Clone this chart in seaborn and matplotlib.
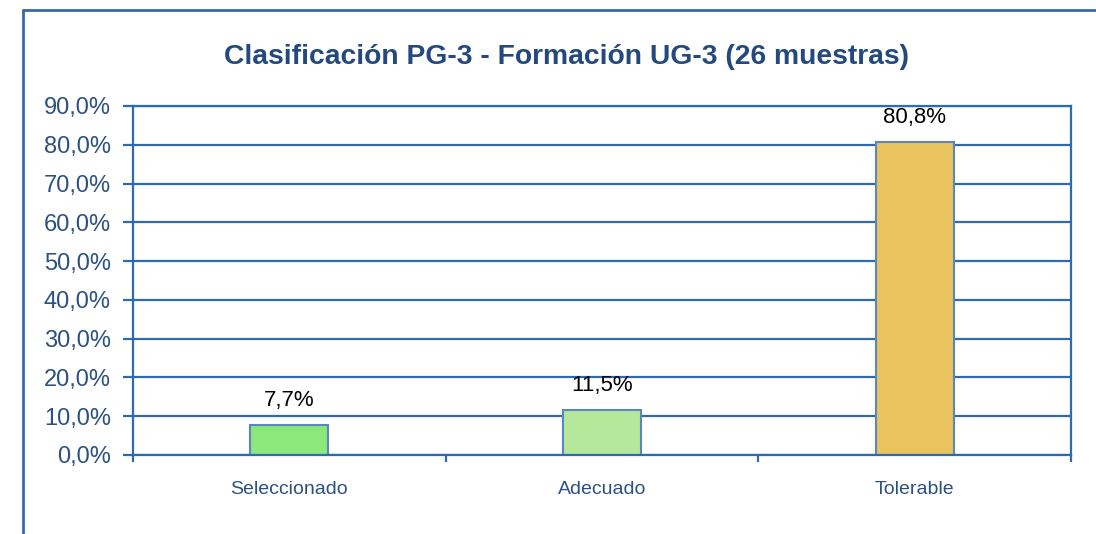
import matplotlib
matplotlib.use("Agg")
import matplotlib.pyplot as plt
import matplotlib.ticker as mticker
from matplotlib.lines import Line2D
import seaborn as sns
import pandas as pd

# datos
categorias = ["Seleccionado", "Adecuado", "Tolerable"]
porcentajes = [7.7, 11.5, 80.8]
colores = ["#8CE87A", "#B6E89C", "#E9C45E"]
titulo = "Clasificación PG-3 - Formación UG-3 (26 muestras)"

azul = "#2E6AB0"
azul_texto = "#2B5183"

sns.set_style("white")
plt.rcParams["font.family"] = ["Liberation Sans", "DejaVu Sans"]

df = pd.DataFrame({"clase": categorias, "pct": porcentajes})

fig = plt.figure(figsize=(10.96, 5.34), dpi=100)
ax = fig.add_axes([0.1214, 0.148, 0.8558, 0.6535])

sns.barplot(data=df, x="clase", y="pct", hue="clase", palette=colores, saturation=1,
            width=0.25, edgecolor="#5B87C0", linewidth=1.5, legend=False, ax=ax)

ax.set_ylim(0, 90)
ax.set_xlim(-0.5, 2.5)
ax.yaxis.set_major_locator(mticker.MultipleLocator(10))
ax.yaxis.set_major_formatter(mticker.FuncFormatter(lambda v, p: f"{v:.1f}%".replace(".", ",")))
ax.grid(axis="y", color=azul, linewidth=1.6)
ax.set_axisbelow(True)
ax.set_xlabel("")
ax.set_ylabel("")

for s in ax.spines.values():
    s.set_color(azul)
    s.set_linewidth(1.6)

ax.tick_params(axis="y", direction="out", length=7, width=1.6, color=azul,
               labelsize=17, labelcolor=azul_texto, pad=9, left=True)
# ticks del eje x en los limites de categoria
ax.set_xticks([-0.5, 0.5, 1.5, 2.5], minor=False)
ax.set_xticklabels([])
ax.set_xticks(range(len(categorias)), minor=True)
ax.set_xticklabels(categorias, minor=True)
ax.tick_params(axis="x", which="major", direction="out", length=5, width=1.6,
               color=azul, bottom=True)
ax.tick_params(axis="x", which="minor", length=0, labelsize=14,
               labelcolor=azul_texto, pad=19)

etiquetas = [f"{v:.1f}%".replace(".", ",") for v in porcentajes]
for i, v in enumerate(porcentajes):
    ax.annotate(etiquetas[i], (i, v), xytext=(0, 10), textcoords="offset points",
                ha="center", va="bottom", fontsize=16, color="black")

fig.text(0.517, 0.893, titulo, ha="center", va="center", fontsize=20.3,
         fontweight="bold", color="#23497E")

# marco del grafico
fig.add_artist(Line2D([0.021, 0.021], [0.0, 0.981], color="#3A69A6", linewidth=2,
                      transform=fig.transFigure))
fig.add_artist(Line2D([0.021, 1.0], [0.981, 0.981], color="#3A69A6", linewidth=2,
                      transform=fig.transFigure))

fig.savefig("out.png", dpi=100, facecolor="white")
